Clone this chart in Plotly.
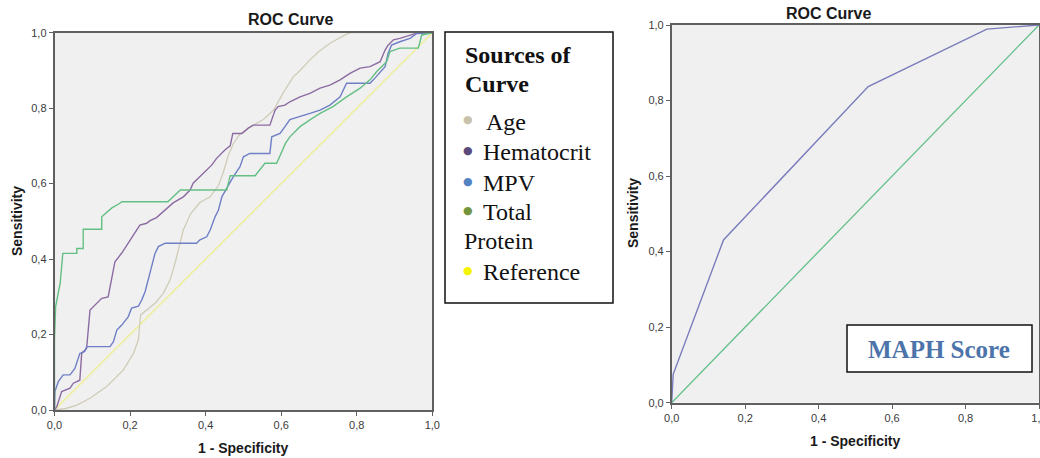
import plotly.graph_objects as go

W, H = 1040, 458

# ---------------- data ----------------
tick_vals = [0, 0.2, 0.4, 0.6, 0.8, 1.0]
tick_text = ["0,0", "0,2", "0,4", "0,6", "0,8", "1,0"]

age_fpr = [0, 0.03, 0.059, 0.094, 0.138, 0.182, 0.209, 0.222, 0.228, 0.244, 0.266, 0.288,
           0.306, 0.319, 0.328, 0.341, 0.36, 0.385, 0.412, 0.434, 0.447, 0.46, 0.474, 0.49,
           0.517, 0.553, 0.58, 0.606, 0.632, 0.65, 0.676, 0.7, 0.729, 0.769, 0.785, 1.0]
age_tpr = [0, 0.004, 0.013, 0.031, 0.062, 0.106, 0.15, 0.186, 0.252, 0.265, 0.283, 0.309,
           0.345, 0.389, 0.424, 0.477, 0.52, 0.55, 0.565, 0.595, 0.63, 0.675, 0.707, 0.73,
           0.75, 0.77, 0.795, 0.842, 0.883, 0.9, 0.928, 0.95, 0.972, 0.994, 1.0, 1.0]

hct_fpr = [0, 0.006, 0.019, 0.041, 0.05, 0.067, 0.072, 0.085, 0.094, 0.11, 0.125, 0.142,
           0.151, 0.16, 0.178, 0.195, 0.213, 0.226, 0.244, 0.253, 0.27, 0.288, 0.314, 0.341,
           0.359, 0.367, 0.385, 0.403, 0.416, 0.429, 0.451, 0.465, 0.472, 0.496, 0.513, 0.526,
           0.570, 0.584, 0.592, 0.610, 0.623, 0.650, 0.676, 0.703, 0.729, 0.756, 0.782, 0.809,
           0.835, 0.862, 0.875, 0.883, 0.897, 0.914, 0.941, 0.963, 1.0]
hct_tpr = [0, 0.009, 0.049, 0.058, 0.071, 0.079, 0.15, 0.163, 0.265, 0.28, 0.296, 0.30,
           0.349, 0.393, 0.416, 0.442, 0.468, 0.49, 0.495, 0.502, 0.51, 0.526, 0.549, 0.565,
           0.583, 0.601, 0.618, 0.636, 0.649, 0.667, 0.689, 0.70, 0.733, 0.733, 0.747, 0.755,
           0.755, 0.795, 0.804, 0.808, 0.817, 0.83, 0.839, 0.853, 0.861, 0.875, 0.892, 0.906,
           0.91, 0.923, 0.954, 0.967, 0.981, 0.985, 0.994, 1.0, 1.0]

mpv_fpr = [0, 0, 0.001, 0.01, 0.023, 0.041, 0.054, 0.067, 0.08, 0.085, 0.147, 0.156, 0.165,
           0.178, 0.195, 0.204, 0.222, 0.231, 0.24, 0.248, 0.257, 0.266, 0.275, 0.293, 0.376,
           0.385, 0.403, 0.412, 0.425, 0.434, 0.443, 0.451, 0.465, 0.473, 0.491, 0.5, 0.517,
           0.570, 0.575, 0.597, 0.61, 0.623, 0.676, 0.703, 0.729, 0.756, 0.773, 0.835, 0.844,
           0.862, 0.875, 0.883, 0.892, 0.914, 0.941, 0.959, 1.0]
mpv_tpr = [0, 0.03, 0.049, 0.075, 0.093, 0.093, 0.11, 0.15, 0.155, 0.168, 0.168, 0.181, 0.212,
           0.225, 0.247, 0.27, 0.275, 0.292, 0.314, 0.345, 0.38, 0.415, 0.433, 0.442, 0.442,
           0.451, 0.459, 0.477, 0.512, 0.53, 0.565, 0.579, 0.601, 0.618, 0.645, 0.671, 0.68,
           0.68, 0.724, 0.733, 0.751, 0.77, 0.786, 0.795, 0.808, 0.83, 0.866, 0.866, 0.875,
           0.897, 0.91, 0.945, 0.967, 0.976, 0.985, 0.998, 1.0]

tp_fpr = [0, 0, 0.003, 0.015, 0.022, 0.059, 0.059, 0.076, 0.076, 0.125, 0.125, 0.135, 0.151,
          0.173, 0.178, 0.300, 0.315, 0.333, 0.456, 0.465, 0.531, 0.545, 0.557, 0.588, 0.600,
          0.612, 0.623, 0.650, 0.676, 0.703, 0.737, 0.773, 0.809, 0.835, 0.853, 0.879, 0.888,
          0.914, 0.963, 0.965, 0.972, 1.0]
tp_tpr = [0, 0.186, 0.274, 0.336, 0.415, 0.415, 0.428, 0.428, 0.479, 0.479, 0.512, 0.52, 0.535,
          0.548, 0.552, 0.552, 0.565, 0.583, 0.583, 0.621, 0.621, 0.64, 0.654, 0.654, 0.681,
          0.708, 0.724, 0.751, 0.769, 0.786, 0.804, 0.83, 0.853, 0.875, 0.897, 0.923, 0.95,
          0.959, 0.959, 0.967, 0.994, 1.0]

ref_fpr = [0, 1]
ref_tpr = [0, 1]

maph_fpr = [0, 0.004, 0.141, 0.535, 0.858, 1.0]
maph_tpr = [0, 0.075, 0.431, 0.837, 0.989, 1.0]

legend_labels = ["Age", "Hematocrit", "MPV", "Total", "Reference"]

# ---------------- styling ----------------
C_AGE, C_HCT, C_MPV, C_TP, C_REF = "#d0ccb8", "#8c6aa2", "#6f7fc6", "#64bf84", "#efee9e"
DOT = {"Age": "#c9c2ab", "Hematocrit": "#5b4a7a", "MPV": "#5383c0",
       "Total": "#74953e", "Reference": "#f4f400"}


def px(x):
    return x / W


def py(y):
    return 1 - y / H


fig = go.Figure()
for xs, ys, c, w in [(ref_fpr, ref_tpr, C_REF, 1.6), (age_fpr, age_tpr, C_AGE, 1.3),
                     (hct_fpr, hct_tpr, C_HCT, 1.4), (mpv_fpr, mpv_tpr, C_MPV, 1.4),
                     (tp_fpr, tp_tpr, C_TP, 1.4)]:
    fig.add_trace(go.Scatter(x=xs, y=ys, mode="lines", line=dict(color=c, width=w),
                             xaxis="x", yaxis="y", showlegend=False, hoverinfo="skip"))

fig.add_trace(go.Scatter(x=ref_fpr, y=ref_tpr, mode="lines", line=dict(color="#63bf8a", width=1.3),
                         xaxis="x2", yaxis="y2", showlegend=False, hoverinfo="skip"))
fig.add_trace(go.Scatter(x=maph_fpr, y=maph_tpr, mode="lines", line=dict(color="#7a7cbc", width=1.4),
                         xaxis="x2", yaxis="y2", showlegend=False, hoverinfo="skip"))

ax_common = dict(range=[0, 1], showline=True, mirror=True, linecolor="#606060", linewidth=1.6,
                 showgrid=False, zeroline=False, ticks="outside", ticklen=4, tickwidth=1.3,
                 tickcolor="#606060", tickvals=tick_vals, ticktext=tick_text, automargin=False,
                 ticklabeloverflow="allow",
                 tickfont=dict(family="Liberation Sans, Arial", size=11, color="#3a3a3a"),
                 fixedrange=True)

fig.update_layout(
    width=W, height=H, margin=dict(l=0, r=0, t=0, b=0, autoexpand=False),
    paper_bgcolor="white", plot_bgcolor="#f0f0f0",
    xaxis=dict(domain=[px(54.5), px(432.3)], anchor="y", **ax_common),
    yaxis=dict(domain=[py(410), py(32.7)], anchor="x", **ax_common),
    xaxis2=dict(domain=[px(671.7), px(1039)], anchor="y2", **ax_common),
    yaxis2=dict(domain=[py(402.7), py(25)], anchor="x2", **ax_common),
)

ann = []
sans = "Liberation Sans, Arial"
serif = "Liberation Serif, Times New Roman"


def add_text(x, y, text, size, family=sans, color="#1a1a1a", xanchor="center", angle=0, bold=False):
    t = f"<b>{text}</b>" if bold else text
    ann.append(dict(x=px(x), y=py(y), xref="paper", yref="paper", text=t, showarrow=False,
                    xanchor=xanchor, yanchor="middle", textangle=angle,
                    font=dict(family=family, size=size, color=color)))


# titles and axis labels
add_text(290, 20, "ROC Curve", 16, bold=True)
add_text(828, 13, "ROC Curve", 16, bold=True)
add_text(243, 448, "1 - Specificity", 14, bold=True)
add_text(855, 441, "1 - Specificity", 14, bold=True)
add_text(17, 221, "Sensitivity", 14, angle=-90, bold=True)
add_text(633, 213, "Sensitivity", 14, angle=-90, bold=True)

# legend box and MAPH box
shapes = [dict(type="rect", xref="paper", yref="paper", x0=px(445), x1=px(613), y0=py(303), y1=py(32),
               line=dict(color="#111", width=1.5), fillcolor="white"),
          dict(type="rect", xref="paper", yref="paper", x0=px(847), x1=px(1032), y0=py(372), y1=py(325),
               line=dict(color="#111", width=1.5), fillcolor="white")]

add_text(463, 55, "Sources of", 24, family=serif, xanchor="left", bold=True, color="#111")
add_text(463, 84, "Curve", 24, family=serif, xanchor="left", bold=True, color="#111")
item_y = [122, 152, 183, 212, 272]
item_x = [484, 481, 481, 481, 481]
for lab, yy, xx in zip(legend_labels, item_y, item_x):
    add_text(468, yy - 2, "●", 11, family="DejaVu Sans", color=DOT[lab], xanchor="center")
    add_text(xx, yy, lab, 24, family=serif, xanchor="left", color="#111")
add_text(462, 241, "Protein", 24, family=serif, xanchor="left", color="#111")

# MAPH score box text
add_text(939, 349, "MAPH Score", 25, family=serif, color="#4d74aa", bold=True)

fig.update_layout(annotations=ann, shapes=shapes)
fig.write_html("out.html", config={"displayModeBar": False},
               post_script="document.body.style.margin='0';document.body.style.overflow='hidden';")
